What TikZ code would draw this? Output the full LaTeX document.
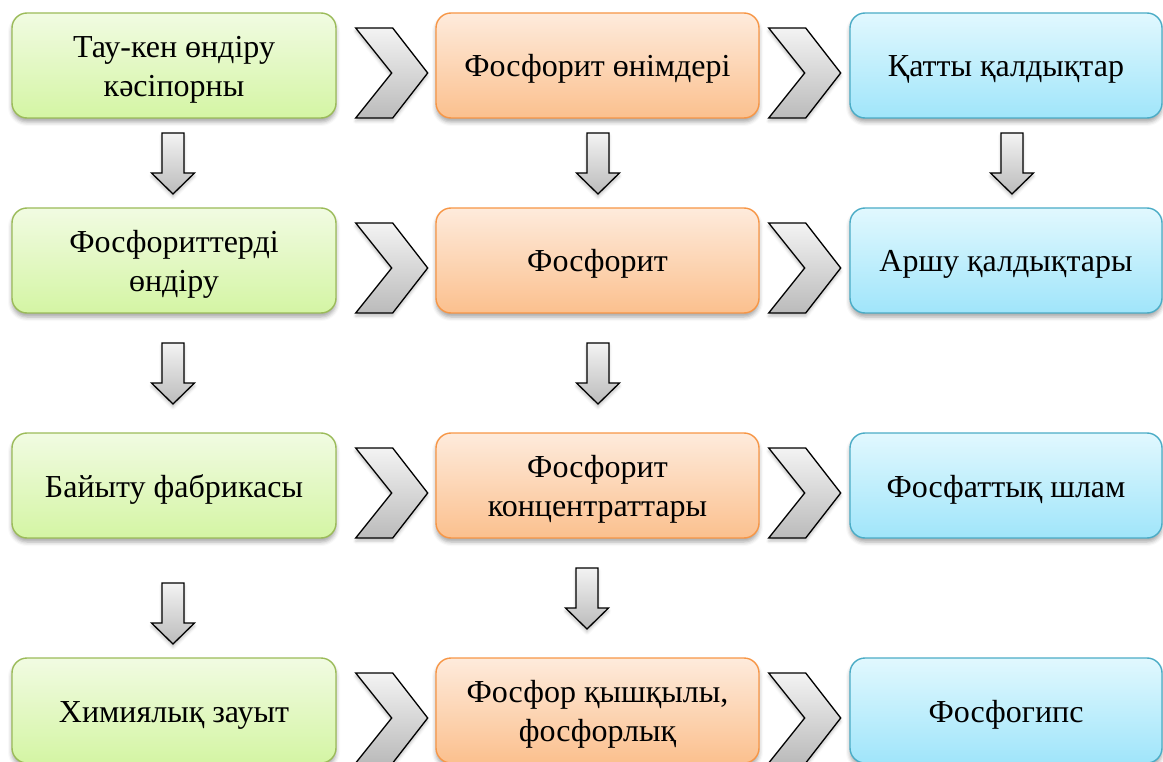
\documentclass[tikz,border=0pt]{standalone}
\usepackage{fontspec}
\setmainfont{Liberation Serif}
\usetikzlibrary{shadows.blur,calc}
\definecolor{gtop}{HTML}{F1FBE2}
\definecolor{gbot}{HTML}{D4F5A4}
\definecolor{gline}{HTML}{9BBB59}
\definecolor{otop}{HTML}{FEEBDC}
\definecolor{obot}{HTML}{FBC08E}
\definecolor{oline}{HTML}{F79646}
\definecolor{btop}{HTML}{E1F8FE}
\definecolor{bbot}{HTML}{A0E5FA}
\definecolor{bline}{HTML}{4BACC6}
\definecolor{atop}{HTML}{F3F3F3}
\definecolor{abot}{HTML}{BBBBBB}
\newcommand{\tp}{\rule{0pt}{32pt}}
\newcommand{\bt}{\rule[-9pt]{0pt}{9pt}}
\tikzset{
  box/.style={rounded corners=15pt, minimum height=105pt, line width=1.4pt,
    align=center, inner sep=0pt, text=black,
    font=\fontsize{32}{39}\selectfont,
    blur shadow={shadow xshift=0pt, shadow yshift=-4pt, shadow blur radius=4pt, shadow opacity=35}},
  gbox/.style={box, minimum width=324pt, draw=gline, top color=gtop, bottom color=gbot},
  obox/.style={box, minimum width=323pt, draw=oline, top color=otop, bottom color=obot},
  bbox/.style={box, minimum width=312pt, draw=bline, top color=btop, bottom color=bbot},
  grayshape/.style={draw=black, line width=1.3pt, line join=miter, top color=atop, bottom color=abot,
    blur shadow={shadow xshift=0pt, shadow yshift=-3pt, shadow blur radius=3pt, shadow opacity=25}},
  pics/chevron/.style={code={
    \draw[grayshape] (-36,-45) -- (1,-45) -- (36,0) -- (1,45) -- (-36,45) -- (0,0) -- cycle;}},
  pics/downarrow/.style={code={
    \draw[grayshape] (-11,-30) -- (11,-30) -- (11,10) -- (21.5,10) -- (0,31) -- (-21.5,10) -- (-11,10) -- cycle;}}
}
\begin{document}
\begin{tikzpicture}[x=1pt,y=-1pt]
\useasboundingbox (0,0) rectangle (1163,762);
% column 1
\node[gbox] (g1) at (174,65.5) {\tp Тау-кен өндіру\\кәсіпорны\bt};
\node[gbox] (g2) at (174,260.5) {\tp Фосфориттерді\\өндіру\bt};
\node[gbox] (g3) at (174,485.5) {\tp Байыту фабрикасы\bt};
\node[gbox] (g4) at (174,710.5) {\tp Химиялық зауыт\bt};
% column 2
\node[obox] (o1) at (597.5,65.5) {\tp Фосфорит өнімдері\bt};
\node[obox] (o2) at (597.5,260.5) {\tp Фосфорит\bt};
\node[obox] (o3) at (597.5,485.5) {\tp Фосфорит\\концентраттары\bt};
\node[obox] (o4) at (597.5,710.5) {\tp Фосфор қышқылы,\\фосфорлық\bt};
% column 3
\node[bbox] (b1) at (1006,65.5) {\tp Қатты қалдықтар\bt};
\node[bbox] (b2) at (1006,260.5) {\tp Аршу қалдықтары\bt};
\node[bbox] (b3) at (1006,485.5) {\tp Фосфаттық шлам\bt};
\node[bbox] (b4) at (1006,710.5) {\tp Фосфогипс\bt};
% chevrons
\foreach \r in {1,2,3,4}{
  \pic at ($(g\r.east)+(55,7.5)$) {chevron};
  \pic at ($(o\r.east)+(45,7.5)$) {chevron};
}
% down arrows
\pic at ($(g1.south)!0.5!(g2.north)+(-1,0)$) {downarrow};
\pic at ($(g2.south)!0.5!(g3.north)+(-1,0)$) {downarrow};
\pic at ($(g3.south)!0.5!(g4.north)+(-1,15)$) {downarrow};
\pic at ($(o1.south)!0.5!(o2.north)+(0.5,0)$) {downarrow};
\pic at ($(o2.south)!0.5!(o3.north)+(0.5,0)$) {downarrow};
\pic at ($(o3.south)!0.5!(o4.north)+(-10.5,0)$) {downarrow};
\pic at ($(b1.south)!0.5!(b2.north)+(6,0)$) {downarrow};
\end{tikzpicture}
\end{document}
